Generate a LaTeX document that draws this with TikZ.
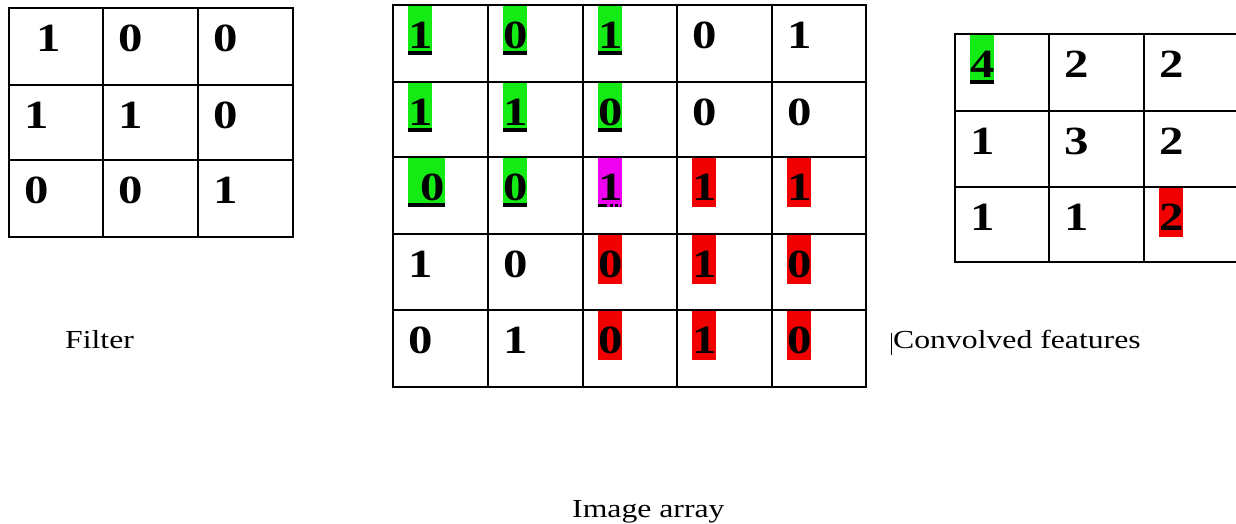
\documentclass[tikz,border=0pt]{standalone}
\usepackage{fontspec}
\setmainfont{Liberation Serif}[FakeStretch=1.22]
\begin{document}
\begin{tikzpicture}[x=1pt,y=-1pt,
  grid/.style={line width=1.3pt,black},
  dig/.style={anchor=base west,inner sep=0pt,font=\fontsize{40}{40}\selectfont\bfseries},
  lbl/.style={anchor=base west,inner sep=0pt,font=\fontsize{26}{26}\selectfont},
  hlgreen/.style={fill={rgb,255:red,20;green,235;blue,20}},
  hlred/.style={fill={rgb,255:red,240;green,0;blue,0}},
  hlmag/.style={fill={rgb,255:red,240;green,0;blue,240}},
  uline/.style={fill=black}]
\useasboundingbox (0,0) rectangle (1236,523);
\newcommand{\num}[4]{\node[dig] (#1) at (#2+15,#3+43) {#4};}
\newcommand{\hlbox}[4]{\fill[#4] (#1+15,#2+1) rectangle ++(#3,49);}
\newcommand{\ubar}[3]{\fill[uline] (#1+15,#2+46) rectangle ++(#3,4);}

% ---------- Filter grid ----------
\draw[grid] (9,8) rectangle (293,237);
\draw[grid] (103,8) -- (103,237) (198,8) -- (198,237)
            (9,85) -- (293,85) (9,160) -- (293,160);
\node[dig] (f11) at (9+27,8+43) {1};
\num{f12}{103}{8}{0}
\num{f13}{198}{8}{0}
\num{f21}{9}{85}{1}
\num{f22}{103}{85}{1}
\num{f23}{198}{85}{0}
\num{f31}{9}{160}{0}
\num{f32}{103}{160}{0}
\num{f33}{198}{160}{1}
\node[lbl] (filter) at (65,348) {Filter};

% ---------- Image array highlights ----------
\hlbox{393}{5}{24.4}{hlgreen}  \hlbox{488}{5}{24.4}{hlgreen}  \hlbox{583}{5}{24.4}{hlgreen}
\hlbox{393}{82}{24.4}{hlgreen} \hlbox{488}{82}{24.4}{hlgreen} \hlbox{583}{82}{24.4}{hlgreen}
\hlbox{393}{157}{37}{hlgreen}  \hlbox{488}{157}{24.4}{hlgreen}
\hlbox{583}{157}{24.4}{hlmag}
\hlbox{677}{157}{24.4}{hlred}  \hlbox{772}{157}{24.4}{hlred}
\hlbox{583}{234}{24.4}{hlred}  \hlbox{677}{234}{24.4}{hlred}  \hlbox{772}{234}{24.4}{hlred}
\hlbox{583}{310}{24.4}{hlred}  \hlbox{677}{310}{24.4}{hlred}  \hlbox{772}{310}{24.4}{hlred}
\ubar{393}{5}{24.4}  \ubar{488}{5}{24.4}  \ubar{583}{5}{24.4}
\ubar{393}{82}{24.4} \ubar{488}{82}{24.4} \ubar{583}{82}{24.4}
\ubar{393}{157}{37}  \ubar{488}{157}{24.4}
\draw[line width=3.5pt,dash pattern=on 9pt off 3pt on 3pt off 2pt on 3pt off 2pt] (598,205.5) -- (621,205.5);

% ---------- Image array grid ----------
\draw[grid] (393,5) rectangle (866,387);
\draw[grid] (488,5) -- (488,387) (583,5) -- (583,387) (677,5) -- (677,387) (772,5) -- (772,387)
            (393,82) -- (866,82) (393,157) -- (866,157) (393,234) -- (866,234) (393,310) -- (866,310);
\num{i11}{393}{5}{1} \num{i12}{488}{5}{0} \num{i13}{583}{5}{1} \num{i14}{677}{5}{0} \num{i15}{772}{5}{1}
\num{i21}{393}{82}{1} \num{i22}{488}{82}{1} \num{i23}{583}{82}{0} \num{i24}{677}{82}{0} \num{i25}{772}{82}{0}
\node[dig] (i31) at (393+27,157+43) {0};
\num{i32}{488}{157}{0} \num{i33}{583}{157}{1} \num{i34}{677}{157}{1} \num{i35}{772}{157}{1}
\num{i41}{393}{234}{1} \num{i42}{488}{234}{0} \num{i43}{583}{234}{0} \num{i44}{677}{234}{1} \num{i45}{772}{234}{0}
\num{i51}{393}{310}{0} \num{i52}{488}{310}{1} \num{i53}{583}{310}{0} \num{i54}{677}{310}{1} \num{i55}{772}{310}{0}
\node[lbl] (image) at (572,517) {Image array};

% ---------- Convolved features ----------
\hlbox{955}{34}{24.4}{hlgreen}
\ubar{955}{34}{24.4}
\hlbox{1144}{187}{24.4}{hlred}
\draw[grid] (1237,34) -- (955,34) -- (955,262) -- (1237,262);
\draw[grid] (1049,34) -- (1049,262) (1144,34) -- (1144,262)
            (955,111) -- (1237,111) (955,187) -- (1237,187);
\num{c11}{955}{34}{4} \num{c12}{1049}{34}{2} \num{c13}{1144}{34}{2}
\num{c21}{955}{111}{1} \num{c22}{1049}{111}{3} \num{c23}{1144}{111}{2}
\num{c31}{955}{187}{1} \num{c32}{1049}{187}{1} \num{c33}{1144}{187}{2}
\node[lbl] (conv) at (893,348) {Convolved features};
\coordinate (cursorTop) at (891,333);
\coordinate (cursorBot) at (891,355);
\draw[line width=1pt] (cursorTop) -- (cursorBot);
\end{tikzpicture}
\end{document}
